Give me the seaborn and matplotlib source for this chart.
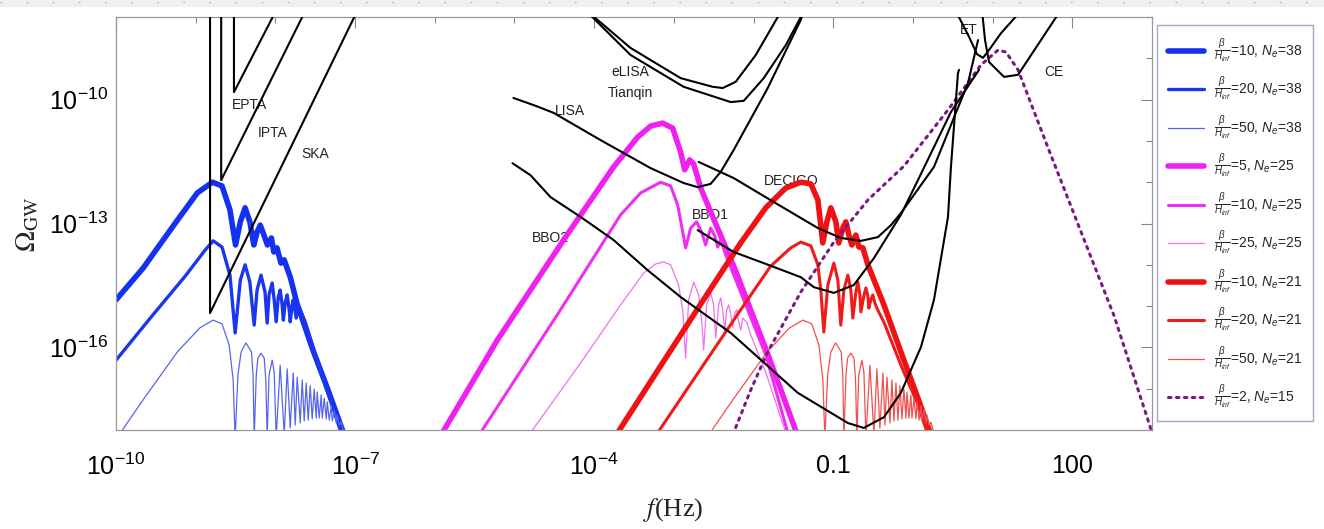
import numpy as np
import pandas as pd
import matplotlib
matplotlib.use("Agg")
import matplotlib.pyplot as plt
from matplotlib.ticker import FixedLocator, FixedFormatter, NullFormatter
from matplotlib.patches import Rectangle
from matplotlib.lines import Line2D
import seaborn as sns

# All curves are (log10 f [Hz], log10 Omega_GW) pairs

# blue family, N_e = 38
blue_10 = [(-10.0, -14.85), (-9.66, -14.08), (-9.23, -12.92), (-8.98, -12.26), (-8.79, -12.00),
           (-8.67, -12.09), (-8.57, -12.67), (-8.50, -13.52), (-8.44, -12.96), (-8.38, -12.62),
           (-8.32, -12.96), (-8.27, -13.52), (-8.23, -13.21), (-8.19, -13.04), (-8.14, -13.30),
           (-8.10, -13.52), (-8.05, -13.35), (-8.02, -13.69), (-7.98, -13.59), (-7.93, -13.96),
           (-7.89, -13.88), (-7.81, -14.32), (-7.73, -14.93), (-7.53, -16.06), (-7.34, -17.03),
           (-7.15, -18.05)]
blue_20 = [(-10.0, -16.31), (-9.57, -15.29), (-9.13, -14.27), (-8.88, -13.64), (-8.78, -13.42),
           (-8.67, -13.57), (-8.57, -14.25), (-8.505, -15.65), (-8.44, -14.37), (-8.38, -14.00),
           (-8.32, -14.42), (-8.266, -15.46), (-8.23, -14.61), (-8.18, -14.25), (-8.13, -14.66),
           (-8.103, -15.41), (-8.08, -14.73), (-8.04, -14.44), (-8.015, -14.85), (-7.99, -15.38),
           (-7.965, -14.80), (-7.94, -14.61), (-7.915, -14.97), (-7.90, -15.34), (-7.877, -14.92),
           (-7.852, -14.73), (-7.827, -15.09), (-7.814, -15.38), (-7.789, -14.97), (-7.776, -14.85),
           (-7.739, -15.29), (-7.714, -14.97), (-7.626, -15.38), (-7.437, -16.55), (-7.186, -18.0)]
blue_50 = [(-9.92, -18.0), (-9.66, -17.27), (-9.23, -16.11), (-8.95, -15.53), (-8.78, -15.34),
           (-8.67, -15.43), (-8.58, -15.94), (-8.53, -16.79), (-8.505, -18.2),
           (-8.47, -16.67), (-8.43, -16.11), (-8.37, -15.89), (-8.30, -16.11), (-8.28, -16.67), (-8.266, -18.2),
           (-8.24, -16.67), (-8.22, -16.26), (-8.18, -16.14), (-8.14, -16.26), (-8.12, -16.79), (-8.103, -18.2),
           (-8.08, -16.67), (-8.04, -16.31), (-8.015, -16.60), (-7.99, -18.2),
           (-7.94, -16.43), (-7.889, -18.1), (-7.852, -16.52), (-7.814, -17.95), (-7.776, -16.62),
           (-7.751, -17.88), (-7.726, -16.72), (-7.688, -17.83), (-7.663, -16.79), (-7.638, -17.78),
           (-7.613, -16.86), (-7.588, -17.76), (-7.563, -16.93), (-7.538, -17.73), (-7.513, -17.01),
           (-7.487, -17.71), (-7.475, -17.08), (-7.450, -17.71), (-7.425, -17.15), (-7.412, -17.71),
           (-7.387, -17.23), (-7.362, -17.73), (-7.349, -17.32), (-7.324, -17.76), (-7.299, -17.42),
           (-7.286, -17.78), (-7.261, -17.52), (-7.236, -17.83), (-7.224, -17.64), (-7.199, -17.88),
           (-7.173, -17.81), (-7.148, -18.0)]

# magenta family, N_e = 25
mag_5 = [(-5.905, -18.07), (-5.214, -15.82), (-4.384, -13.40), (-3.756, -11.63), (-3.455, -10.91),
         (-3.291, -10.64), (-3.141, -10.57), (-3.015, -10.69), (-2.915, -11.27), (-2.864, -11.70),
         (-2.802, -11.46), (-2.751, -11.56), (-2.663, -12.14), (-2.538, -12.72), (-2.249, -14.03),
         (-1.822, -16.16), (-1.445, -18.15)]
mag_10 = [(-5.427, -18.07), (-4.422, -15.09), (-3.668, -12.79), (-3.417, -12.26), (-3.166, -12.00),
          (-3.040, -12.09), (-2.952, -12.55), (-2.852, -13.59), (-2.789, -13.11), (-2.714, -12.96),
          (-2.651, -13.21), (-2.601, -13.52), (-2.538, -13.11), (-2.487, -13.30), (-2.450, -13.57),
          (-2.412, -13.40), (-2.349, -13.76), (-2.098, -14.97), (-1.847, -16.18), (-1.570, -18.07)]
mag_25 = [(-4.799, -18.07), (-4.171, -16.38), (-3.668, -14.97), (-3.379, -14.20), (-3.229, -13.98),
          (-3.128, -13.93), (-3.040, -14.00), (-2.940, -14.49), (-2.889, -15.09), (-2.852, -16.26),
          (-2.814, -14.85), (-2.751, -14.42), (-2.688, -14.73), (-2.651, -15.34), (-2.626, -16.06),
          (-2.588, -14.97), (-2.538, -14.68), (-2.500, -14.97), (-2.475, -15.77), (-2.437, -14.97),
          (-2.412, -14.80), (-2.387, -15.09), (-2.362, -15.63), (-2.337, -15.09), (-2.312, -14.97),
          (-2.286, -15.19), (-2.261, -15.53), (-2.236, -15.17), (-2.211, -15.09), (-2.186, -15.39),
          (-2.161, -15.58), (-2.136, -15.29), (-2.085, -15.39), (-2.035, -15.70), (-1.847, -16.60),
          (-1.595, -18.07)]

# red family, N_e = 21
red_10 = [(-3.706, -18.07), (-3.166, -16.45), (-2.663, -14.95), (-2.161, -13.47), (-1.847, -12.62),
          (-1.595, -12.14), (-1.407, -12.00), (-1.281, -12.04), (-1.193, -12.43), (-1.131, -13.47),
          (-1.080, -12.96), (-1.030, -12.62), (-0.967, -12.96), (-0.930, -13.47), (-0.879, -13.11),
          (-0.842, -12.96), (-0.804, -13.28), (-0.766, -13.52), (-0.716, -13.28), (-0.678, -13.57),
          (-0.628, -13.59), (-0.565, -14.00), (-0.364, -14.97), (-0.151, -16.11), (0.063, -17.23),
          (0.226, -18.12)]
red_20 = [(-3.204, -18.07), (-2.663, -16.52), (-2.161, -15.09), (-1.784, -14.03), (-1.533, -13.59),
          (-1.407, -13.45), (-1.281, -13.54), (-1.193, -14.00), (-1.156, -14.61), (-1.118, -15.63),
          (-1.068, -14.49), (-0.992, -13.96), (-0.942, -14.37), (-0.905, -15.46), (-0.867, -14.61),
          (-0.817, -14.25), (-0.779, -14.61), (-0.754, -15.29), (-0.716, -14.66), (-0.691, -14.42),
          (-0.666, -14.73), (-0.653, -15.14), (-0.616, -14.76), (-0.590, -14.56), (-0.565, -14.76),
          (-0.553, -15.05), (-0.528, -14.85), (-0.503, -14.73), (-0.477, -14.93), (-0.452, -15.05),
          (-0.364, -15.39), (-0.151, -16.43), (0.063, -17.39), (0.188, -18.12)]
red_50 = [(-2.52, -18.0), (-2.26, -17.27), (-1.83, -16.11), (-1.55, -15.53), (-1.38, -15.34),
          (-1.27, -15.43), (-1.18, -15.94), (-1.13, -16.79), (-1.105, -18.2),
          (-1.07, -16.67), (-1.03, -16.11), (-0.97, -15.89), (-0.90, -16.11), (-0.88, -16.67), (-0.866, -18.2),
          (-0.84, -16.67), (-0.82, -16.26), (-0.78, -16.14), (-0.74, -16.26), (-0.72, -16.79), (-0.703, -18.2),
          (-0.68, -16.67), (-0.64, -16.31), (-0.615, -16.60), (-0.59, -18.2),
          (-0.54, -16.43), (-0.489, -18.1), (-0.452, -16.52), (-0.414, -17.95), (-0.376, -16.62),
          (-0.351, -17.88), (-0.326, -16.72), (-0.288, -17.83), (-0.263, -16.79), (-0.238, -17.78),
          (-0.213, -16.86), (-0.188, -17.76), (-0.163, -16.93), (-0.138, -17.73), (-0.113, -17.01),
          (-0.087, -17.71), (-0.075, -17.08), (-0.050, -17.71), (-0.025, -17.15), (-0.012, -17.71),
          (0.013, -17.23), (0.038, -17.73), (0.051, -17.32), (0.076, -17.76), (0.101, -17.42),
          (0.114, -17.78), (0.139, -17.52), (0.164, -17.83), (0.176, -17.64), (0.201, -17.88),
          (0.227, -17.81), (0.252, -18.0)]

# dotted, beta/H = 2, N_e = 15
purple_2 = [(-2.261, -18.12), (-2.035, -17.03), (-1.822, -16.11), (-1.407, -14.66), (-0.992, -13.45),
            (-0.565, -12.43), (-0.113, -11.61), (0.440, -10.25), (0.854, -9.16), (1.068, -8.80),
            (1.168, -8.85), (1.319, -9.28), (1.696, -11.17), (2.111, -13.21), (2.525, -15.24),
            (2.990, -18.0)]

# detector sensitivity curves
ska = [(-8.82, -7.9), (-8.82, -15.17), (-7.00, -7.96)]
ipta = [(-8.68, -7.9), (-8.68, -11.95), (-7.65, -7.95)]
epta = [(-8.52, -7.9), (-8.52, -9.82), (-8.02, -7.95)]
lisa = [(-5.013, -9.96), (-4.736, -10.15), (-4.510, -10.32), (-3.920, -10.98), (-3.291, -11.66),
        (-2.877, -12.02), (-2.701, -12.12), (-2.538, -12.04), (-2.412, -11.75), (-2.249, -11.22),
        (-1.822, -9.72), (-1.407, -8.07), (-1.38, -7.9)]
elisa = [(-4.03, -7.95), (-3.543, -8.75), (-2.915, -9.48), (-2.513, -9.69), (-2.387, -9.72),
         (-2.224, -9.57), (-1.972, -8.92), (-1.696, -8.0), (-1.67, -7.9)]
tianqin = [(-4.05, -7.95), (-3.543, -8.92), (-2.877, -9.69), (-2.286, -10.06), (-2.123, -10.03),
           (-1.872, -9.48), (-1.595, -8.68), (-1.407, -8.0), (-1.38, -7.9)]
bbo2 = [(-5.025, -11.54), (-4.799, -11.83), (-4.548, -12.36), (-4.171, -12.84), (-3.756, -13.40),
        (-3.329, -14.13), (-2.915, -14.78), (-2.286, -15.65), (-1.445, -17.10), (-0.817, -17.83),
        (-0.616, -17.95), (-0.364, -17.69), (-0.151, -17.10), (0.101, -15.99), (0.264, -14.85),
        (0.440, -12.84), (0.477, -11.63), (0.565, -9.36), (0.578, -9.28)]
bbo1 = [(-2.701, -13.16), (-2.249, -13.69), (-1.872, -13.96), (-1.407, -14.30), (-1.244, -14.54),
        (-0.992, -14.68), (-0.741, -14.49), (-0.490, -13.84), (-0.151, -12.79), (0.063, -11.95),
        (0.477, -10.30), (0.829, -9.28)]
decigo = [(-2.688, -11.51), (-2.249, -11.90), (-1.746, -12.48), (-1.193, -13.11), (-0.905, -13.35),
          (-0.653, -13.42), (-0.440, -13.33), (-0.276, -13.04), (-0.151, -12.75), (0.264, -11.63),
          (0.691, -9.60), (0.817, -8.56)]
et = [(0.55, -7.9), (0.704, -8.48), (0.804, -8.90), (0.879, -8.99), (0.955, -8.80), (1.106, -8.39),
      (1.319, -7.93), (1.34, -7.88)]
ce = [(0.87, -7.9), (0.905, -8.56), (0.955, -9.09), (1.143, -9.45), (1.319, -9.40), (1.822, -7.93),
      (1.85, -7.88)]

detectors = [ska, ipta, epta, lisa, elisa, tianqin, bbo2, bbo1, decigo, et, ce]
det_names = ["EPTA", "IPTA", "SKA", "eLISA", "Tianqin", "LISA", "BBO2", "BBO1", "DECIGO", "ET", "CE"]
det_label_at = [(-8.33, -10.13), (-8.04, -10.81), (-7.50, -11.32), (-3.54, -9.33), (-3.54, -9.84),
                (-4.31, -10.28), (-4.55, -13.35), (-2.54, -12.79), (-1.53, -11.97), (0.70, -8.31),
                (1.77, -9.33)]

# legend values
beta_vals = [10, 20, 50, 5, 10, 25, 10, 20, 50, 2]
ne_vals = [38, 38, 38, 25, 25, 25, 21, 21, 21, 15]

x_ticks = [1e-10, 1e-7, 1e-4, 1e-1, 1e2]
x_labels = [r"$\mathdefault{10^{-10}}$", r"$\mathdefault{10^{-7}}$", r"$\mathdefault{10^{-4}}$", "0.1", "100"]
y_ticks = [1e-16, 1e-13, 1e-10]
y_labels = [r"$\mathdefault{10^{-16}}$", r"$\mathdefault{10^{-13}}$", r"$\mathdefault{10^{-10}}$"]

sns.set_theme(style="white")
plt.rcParams["font.family"] = ["Liberation Sans", "DejaVu Sans"]
plt.rcParams["mathtext.fontset"] = "custom"
plt.rcParams["mathtext.rm"] = "Liberation Sans"
plt.rcParams["mathtext.it"] = "Liberation Sans:italic"
plt.rcParams["mathtext.bf"] = "Liberation Sans:bold"

fig = plt.figure(figsize=(13.24, 5.29), dpi=100)
fig.patch.set_facecolor("white")
ax = fig.add_axes([116 / 1324, 1 - 430 / 529, 1036 / 1324, 413 / 529])


def draw(pts, color, lw, z=2):
    d = pd.DataFrame(pts, columns=["lf", "lo"])
    d["f"] = 10.0 ** d["lf"]
    d["omega"] = 10.0 ** d["lo"]
    sns.lineplot(data=d, x="f", y="omega", sort=False, estimator=None, ax=ax,
                 color=color, linewidth=lw, zorder=z, legend=False)
    return ax.lines[-1]


spectra = [
    (blue_10, "#1430f0", 4.0),
    (blue_20, "#1a36f0", 2.4),
    (blue_50, "#5565f2", 0.9),
    (mag_5, "#f020f0", 4.0),
    (mag_10, "#ee30ee", 2.2),
    (mag_25, "#f070f0", 0.9),
    (red_10, "#f01212", 4.0),
    (red_20, "#f01a1a", 2.2),
    (red_50, "#f05050", 0.9),
]

handles = []
for pts, col, lw in spectra:
    handles.append(draw(pts, col, lw))

dot = draw(purple_2, "#7a1a80", 2.2, z=2.5)
dot.set_linestyle((0, (0.8, 1.8)))
dot.set_dash_capstyle("round")
handles.append(dot)

for det in detectors:
    draw(det, "black", 1.5, z=3)

for name, (lx, ly) in zip(det_names, det_label_at):
    ax.text(10 ** lx, 10 ** ly, name, fontsize=10, color="#222222", ha="center", va="center", zorder=1)

ax.set_xscale("log")
ax.set_yscale("log")
ax.set_xlim(1e-10, 1e3)
ax.set_ylim(1e-18, 1e-8)
ax.set_xlabel("")
ax.set_ylabel("")

ax.xaxis.set_major_locator(FixedLocator(x_ticks))
ax.xaxis.set_major_formatter(FixedFormatter(x_labels))
ax.xaxis.set_minor_locator(FixedLocator([10.0 ** k for k in range(-10, 4)]))
ax.xaxis.set_minor_formatter(NullFormatter())
ax.yaxis.set_major_locator(FixedLocator(y_ticks))
ax.yaxis.set_major_formatter(FixedFormatter(y_labels))
ax.yaxis.set_minor_locator(FixedLocator([10.0 ** k for k in range(-18, -7)]))
ax.yaxis.set_minor_formatter(NullFormatter())

ax.tick_params(which="both", direction="in", top=True, right=True, color="#888888", width=0.8)
ax.tick_params(which="major", length=8, labelsize=18, labelcolor="black")
ax.tick_params(which="minor", length=4)
ax.tick_params(axis="x", which="major", pad=17)
ax.tick_params(axis="y", which="major", pad=6)
for sp in ax.spines.values():
    sp.set_color("#999999")
    sp.set_linewidth(0.9)

fig.text(28 / 1324, 1 - 224 / 529, r"$\Omega_{\rm GW}$", rotation=90, ha="center", va="center",
         fontsize=20, math_fontfamily="stix")
fig.text(673 / 1324, 1 - 510 / 529, r"$f$(Hz)", ha="center", va="center", fontsize=19,
         family="Liberation Serif", math_fontfamily="stix")

labels = [r"$\frac{\beta}{H_{inf}}$=%d, $N_e$=%d" % (b, n) for b, n in zip(beta_vals, ne_vals)]
leg = ax.legend(handles, labels, loc="upper left", bbox_to_anchor=(1157 / 1324, 1 - 25 / 529),
                bbox_transform=fig.transFigure, borderaxespad=0, fontsize=10, handlelength=2.6,
                handletextpad=0.7, labelspacing=0.8, borderpad=0.8, frameon=True, fancybox=False)
leg.get_frame().set_edgecolor("#8595b5")
leg.get_frame().set_linewidth(1.0)

# light page strip along the top
fig.add_artist(Rectangle((0, 1 - 7 / 529), 1, 7 / 529, transform=fig.transFigure,
                         facecolor="#eef0f3", edgecolor="none"))
fig.add_artist(Line2D([0, 1], [1 - 2 / 529, 1 - 2 / 529], transform=fig.transFigure,
                      color="#8fb0e8", lw=0.8, dashes=(1.5, 22)))

fig.savefig("out.png", dpi=100)
